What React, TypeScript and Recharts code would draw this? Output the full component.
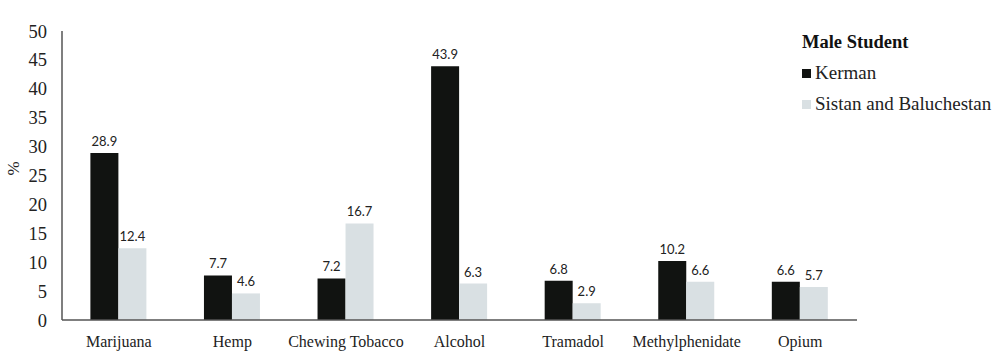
import { BarChart, Bar, XAxis, YAxis, LabelList, Label } from 'recharts';

const substances = ['Marijuana', 'Hemp', 'Chewing Tobacco', 'Alcohol', 'Tramadol', 'Methylphenidate', 'Opium'];
const kerman = [28.9, 7.7, 7.2, 43.9, 6.8, 10.2, 6.6];
const sistan = [12.4, 4.6, 16.7, 6.3, 2.9, 6.6, 5.7];
const yTicks = [0, 5, 10, 15, 20, 25, 30, 35, 40, 45, 50];

const data = substances.map((name, i) => ({ name, kerman: kerman[i], sistan: sistan[i] }));

const serif = '"Liberation Serif", "DejaVu Serif", serif';
const dark = '#111311';
const light = '#d9e0e3';

function Legend() {
  const row = { display: 'flex', alignItems: 'center', fontSize: 19, color: '#222', marginTop: 9 };
  const sw = { width: 9, height: 9, marginRight: 4 };
  return (
    <div style={{ position: 'absolute', left: 802, top: 32, fontFamily: serif }}>
      <div style={{ fontWeight: 'bold', fontSize: 18.5, color: '#111' }}>Male Student</div>
      <div style={row}>
        <span style={{ ...sw, background: dark }} />
        Kerman
      </div>
      <div style={row}>
        <span style={{ ...sw, background: light }} />
        Sistan and Baluchestan
      </div>
    </div>
  );
}

export default function App() {
  return (
    <div style={{ position: 'absolute', left: 0, top: 0, width: 1000, height: 358, background: '#fff' }}>
      <BarChart
        width={1000}
        height={358}
        data={data}
        margin={{ top: 31, right: 143, left: 0, bottom: 0 }}
        barCategoryGap="25%"
        barGap={0}
      >
        <XAxis
          dataKey="name"
          height={38}
          tickLine={false}
          stroke="#555"
          strokeWidth={1.5}
          tickMargin={10}
          tick={{ fill: '#222', fontSize: 16, fontFamily: serif }}
          interval={0}
        />
        <YAxis
          width={62}
          domain={[0, 50]}
          ticks={yTicks}
          tickLine={false}
          stroke="#555"
          strokeWidth={1.5}
          tickMargin={9}
          tick={{ fill: '#222', fontSize: 18.5, fontFamily: serif }}
        >
          <Label value="%" angle={-90} position="insideLeft" offset={13} style={{ fill: '#222', fontSize: 17, fontFamily: serif }} />
        </YAxis>
        <Bar dataKey="kerman" fill={dark} isAnimationActive={false}>
          <LabelList dataKey="kerman" position="top" offset={7} style={{ fill: '#222', fontSize: 13, fontFamily: 'Lato, sans-serif' }} />
        </Bar>
        <Bar dataKey="sistan" fill={light} isAnimationActive={false}>
          <LabelList dataKey="sistan" position="top" offset={7} style={{ fill: '#222', fontSize: 13, fontFamily: 'Lato, sans-serif' }} />
        </Bar>
      </BarChart>
      <Legend />
    </div>
  );
}
